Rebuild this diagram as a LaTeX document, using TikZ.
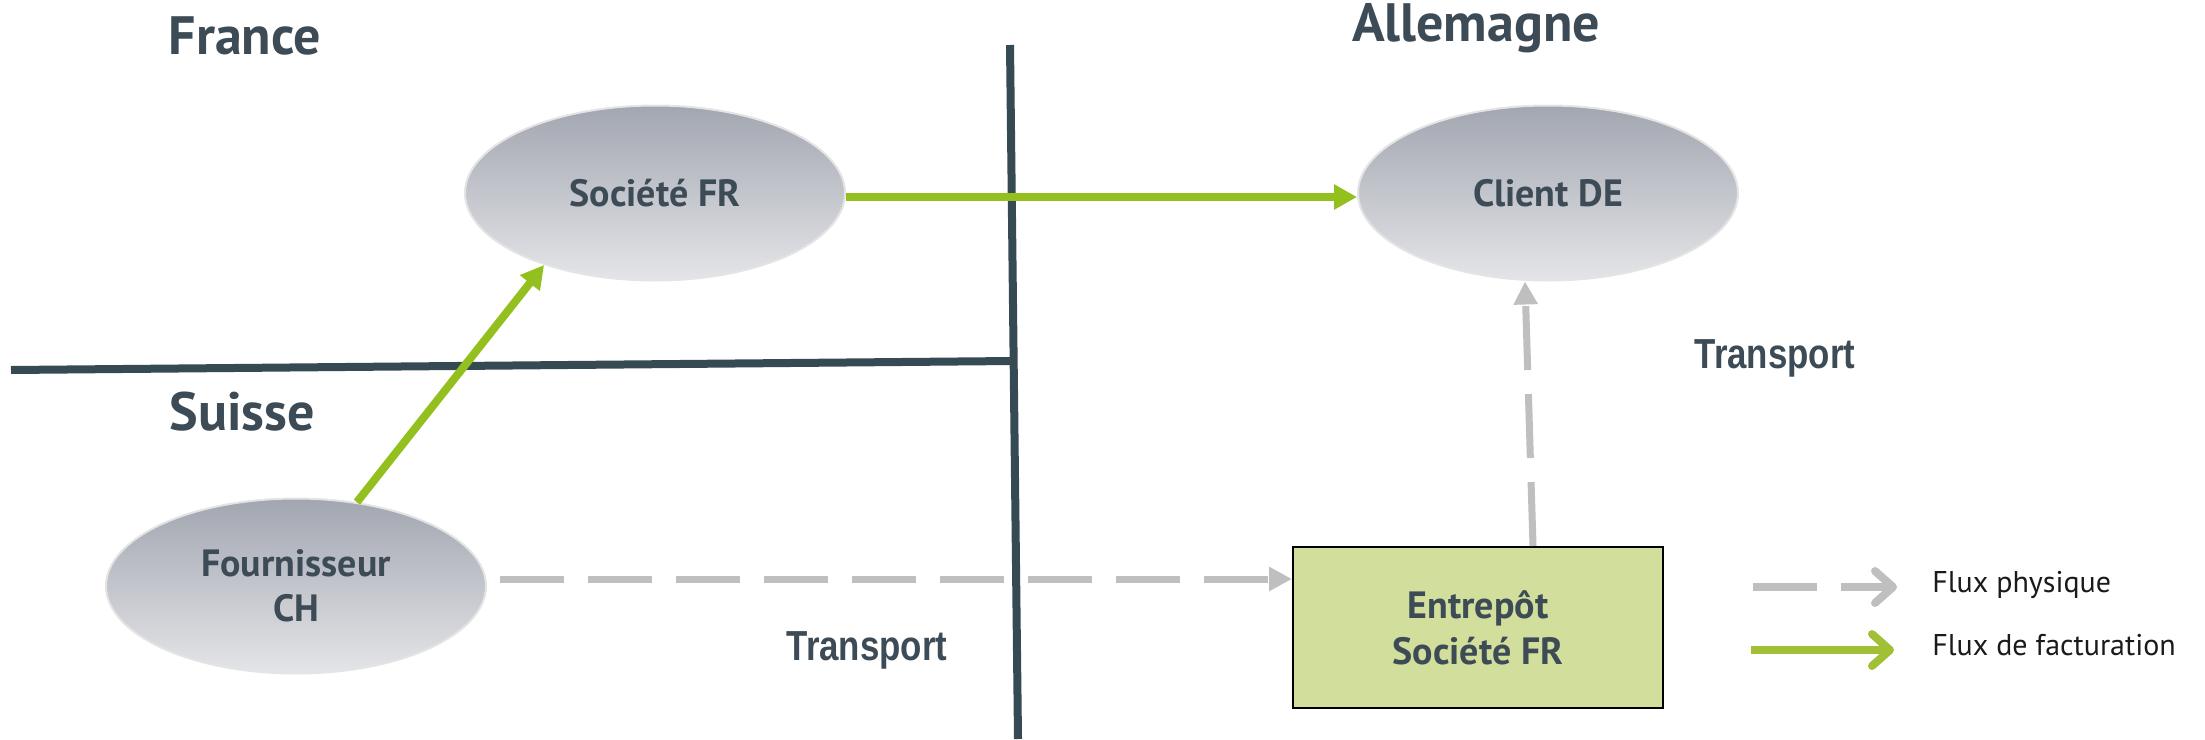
\documentclass[tikz,border=0pt]{standalone}
\usepackage{fontspec}
\setmainfont{PT Sans}
\newfontfamily\transfont[FakeStretch=0.83]{Liberation Sans}
\usetikzlibrary{shapes.geometric,arrows.meta,calc}

\definecolor{txtdark}{HTML}{3D4B56}
\definecolor{border}{HTML}{364A54}
\definecolor{ellTop}{HTML}{A2A6B0}
\definecolor{ellBot}{HTML}{E4E5E8}
\definecolor{ellEdge}{HTML}{E4E4E4}
\definecolor{boxfill}{HTML}{D2DE9B}
\definecolor{invoice}{HTML}{93C01F}
\definecolor{invoiceleg}{HTML}{A2C036}
\definecolor{physical}{HTML}{BFBFBF}
\definecolor{legtxt}{HTML}{1A1A1A}

\tikzset{
  country/.style={font=\fontsize{27}{30}\selectfont\bfseries, text=txtdark, inner sep=0pt},
  party/.style={ellipse, minimum width=190pt, minimum height=87.5pt, inner sep=0pt,
    top color=ellTop, bottom color=ellBot, draw=ellEdge, line width=1pt,
    font=\fontsize{19}{22.5}\selectfont\bfseries, text=txtdark, align=center},
  warehouse/.style={rectangle, minimum width=185pt, minimum height=80.5pt, inner sep=0pt,
    fill=boxfill, draw=black, line width=1pt,
    font=\fontsize{19}{23}\selectfont\bfseries, text=txtdark, align=center},
  frontier/.style={draw=border, line width=4pt},
  invoiceflow/.style={draw=invoice, line width=4pt, -{Triangle[length=11.5pt,width=12pt]}},
  physflow/.style={draw=physical, line width=3.5pt, dash pattern=on 32pt off 12pt,
    -{Triangle[length=11.5pt,width=11.5pt]}},
  transp/.style={font=\transfont\fontsize{21}{24}\selectfont\bfseries, text=txtdark, inner sep=0pt},
  legtext/.style={font=\fontsize{15}{18}\selectfont, text=legtxt, anchor=west, inner sep=0pt},
}

\begin{document}
\begin{tikzpicture}[x=0.5pt, y=-0.5pt]
\useasboundingbox (0,0) rectangle (2205,739);

% borders between countries
\coordinate (vtop) at (1010,45);
\coordinate (vbot) at (1018,739);
\coordinate (hleft) at (11,370);
\coordinate (hright) at (1013,361);
\draw[frontier] (vtop) -- (vbot);
\draw[frontier] (hleft) -- (hright);

% country names
\node[country] (fr) at (245,36) {France};
\node[country] (de) at (1476,28) {Allemagne};
\node[country] (ch) at (242,412) {Suisse};

% parties
\node[party] (soc) at (655,193) {Société FR};
\node[party] (cli) at (1548,193) {Client DE};
\node[party] (four) at (296,586) {Fournisseur\\CH};
\node[warehouse] (ware) at (1478,627.5) {Entrepôt\\Société FR};

% invoicing flows
\draw[invoiceflow] (four.54) -- (soc.213.7);
\draw[invoiceflow] ([yshift=-2pt]soc.east) -- ([yshift=-2pt]cli.west);

% physical flows
\path ([xshift=6.5pt,yshift=3.5pt]four.east) coordinate (ps);
\draw[physflow] (ps) -- (ps -| ware.west);
\draw[physflow] ([xshift=27.5pt]ware.north) -- ([xshift=-11.5pt]cli.south);

% transport labels
\node[transp] (t1) at (1775,358) {Transport};
\node[transp] (t2) at (867,650) {Transport};

% legend
\coordinate (lp1) at (1753,587);
\coordinate (lp2) at (1897,587);
\coordinate (lf1) at (1751,650);
\coordinate (lf2) at (1894,650);
\draw[draw=physical, line width=4pt, dash pattern=on 32pt off 12pt,
  -{Straight Barb[length=9pt,width=16pt,line cap=round,line join=round]}] (lp1) -- (lp2);
\draw[draw=invoiceleg, line width=4pt,
  -{Straight Barb[length=9pt,width=16pt,line cap=round,line join=round]}] (lf1) -- (lf2);
\node[legtext] (lgp) at (1932,585) {Flux physique};
\node[legtext] (lgf) at (1932,645) {Flux de facturation};
\end{tikzpicture}
\end{document}
